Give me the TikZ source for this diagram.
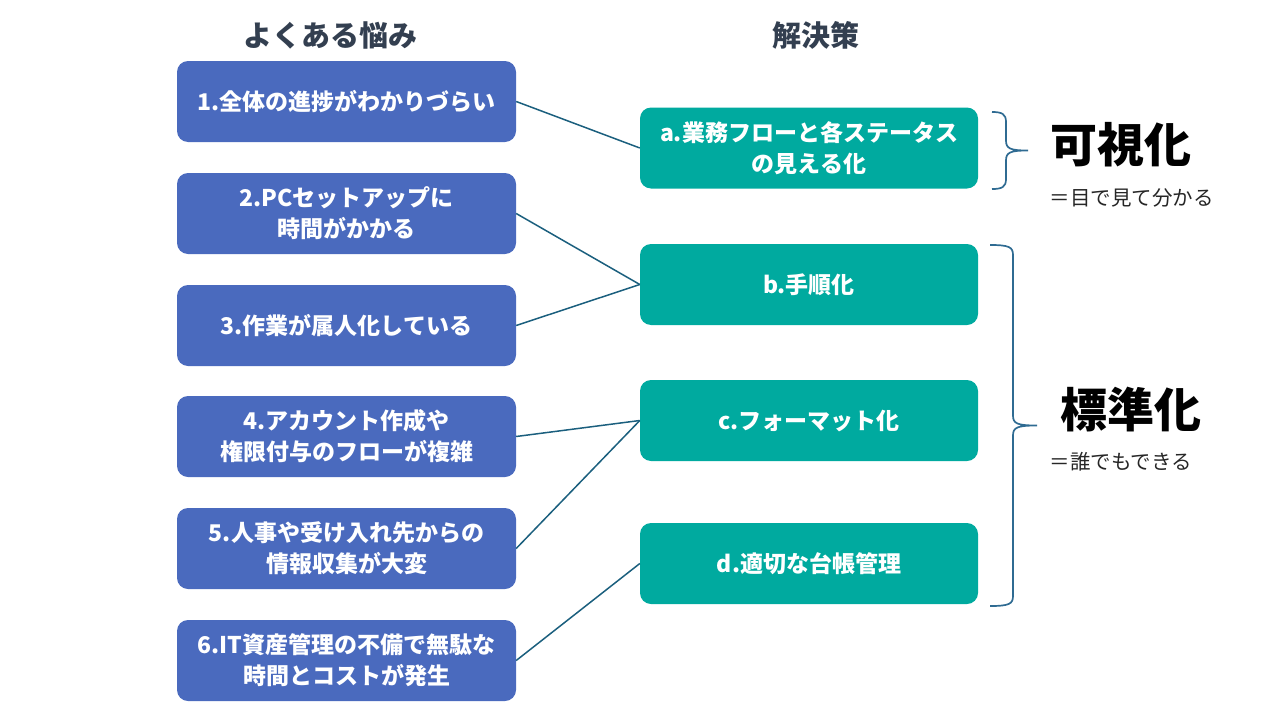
\documentclass[tikz,border=0pt]{standalone}
\usepackage{fontspec}
\setmainfont{Noto Sans CJK JP}
\definecolor{probblue}{HTML}{4A6ABE}
\definecolor{soltteal}{HTML}{00AA9F}
\definecolor{linkcol}{HTML}{1B5F7E}
\definecolor{bracecol}{HTML}{2F6B92}
\definecolor{headcol}{HTML}{333F50}
\newcommand{\mybrace}[5]{% x0, ytop, ybot, xmid, xtip
  \pgfmathsetmacro{\ym}{(#2+#3)/2}%
  \draw[bracecol,line width=1.7pt]
    (#1,#2) .. controls (#4-4,#2) and (#4,#2+2) .. (#4,#2+10)
    -- (#4,\ym-10) .. controls (#4,\ym-2) and (#4+4,\ym) .. (#5,\ym)
    (#4,\ym+10) .. controls (#4,\ym+2) and (#4+4,\ym) .. (#5,\ym)
    (#4,\ym+10) -- (#4,#3-10) .. controls (#4,#3-2) and (#4-4,#3) .. (#1,#3);}
\begin{document}
\begin{tikzpicture}[x=1pt,y=-1pt,
  prob/.style={draw=none,fill=probblue,rounded corners=11pt,minimum width=339pt,minimum height=81pt,text=white,font=\fontsize{23}{31}\selectfont\bfseries,align=center,inner sep=0pt},
  sol/.style={draw=none,fill=soltteal,rounded corners=11pt,minimum width=338pt,minimum height=81pt,text=white,font=\fontsize{23}{31}\selectfont\bfseries,align=center,inner sep=0pt},
  link/.style={draw=linkcol,line width=1.5pt},
  head/.style={text=headcol,font=\fontsize{29}{32}\selectfont\bfseries},
  big/.style={text=black,font=\fontsize{47}{50}\selectfont\bfseries},
  note/.style={text=black!85,font=\fontsize{20.5}{22}\selectfont,anchor=west}]
\useasboundingbox (0,0) rectangle (1280,720);
\node[head] (h1) at (330,35) {よくある悩み};
\node[head] (h2) at (816,35) {解決策};

\node[prob] (p1) at (346.5,101.5) {1.全体の進捗がわかりづらい};
\node[prob] (p2) at (346.5,213.5) {2.PCセットアップに\\時間がかかる};
\node[prob] (p3) at (346.5,325.5) {3.作業が属人化している};
\node[prob] (p4) at (346.5,436.5) {4.アカウント作成や\\権限付与のフローが複雑};
\node[prob] (p5) at (346.5,548.5) {5.人事や受け入れ先からの\\情報収集が大変};
\node[prob] (p6) at (346.5,660.5) {6.IT資産管理の不備で無駄な\\時間とコストが発生};

\node[sol] (a) at (809,148) {a.業務フローと各ステータス\\の見える化};
\node[sol] (b) at (809,284.5) {b.手順化};
\node[sol] (c) at (809,420.5) {c.フォーマット化};
\node[sol] (d) at (809,563.5) {d.適切な台帳管理};

\draw[link] (p1.east) -- (a.west);
\draw[link] (p2.east) -- (b.west);
\draw[link] (p3.east) -- (b.west);
\draw[link] (p4.east) -- (c.west);
\draw[link] (p5.east) -- (c.west);
\draw[link] (p6.east) -- (d.west);

\mybrace{992}{112}{189}{1006}{1028}
\mybrace{990}{245}{606}{1013}{1037}

\node[big] (v) at (1121,145) {可視化};
\node[note] (vn) at (1046,198) {＝目で見て分かる};
\node[big] (s) at (1131,410) {標準化};
\node[note] (sn) at (1046,462) {＝誰でもできる};
\end{tikzpicture}
\end{document}
